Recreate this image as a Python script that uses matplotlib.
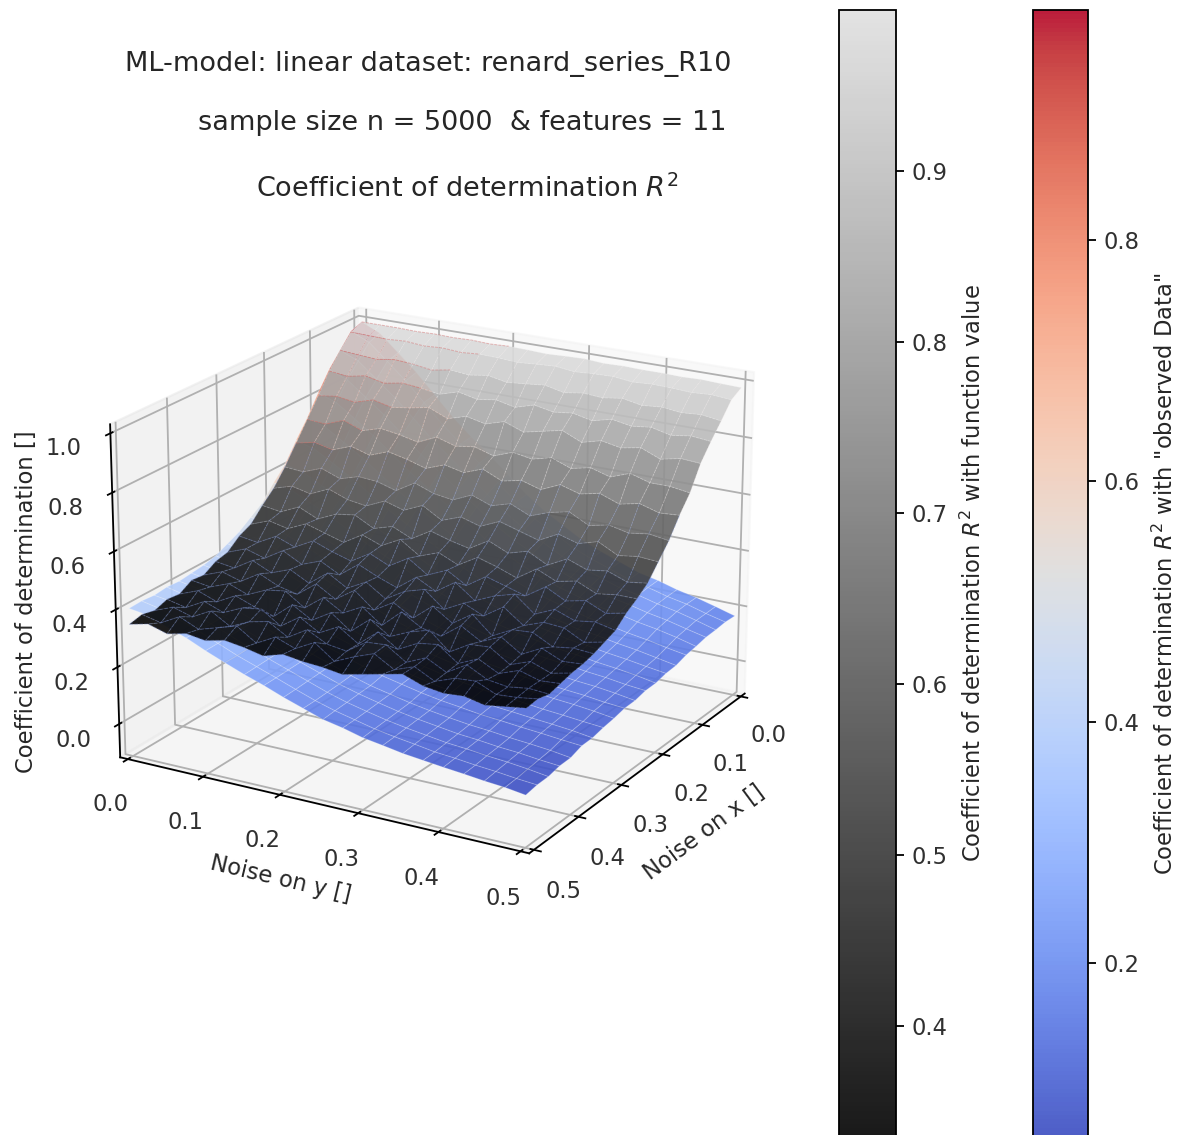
import numpy as np
import matplotlib
matplotlib.use("Agg")
import matplotlib.pyplot as plt
from matplotlib.colors import LinearSegmentedColormap, Normalize

noise_x = [0.0, 0.025, 0.05, 0.075, 0.1, 0.125, 0.15, 0.175, 0.2, 0.225, 0.25, 0.275, 0.3, 0.325, 0.35, 0.375, 0.4, 0.425, 0.45, 0.475, 0.5]
noise_y = [0.0, 0.025, 0.05, 0.075, 0.1, 0.125, 0.15, 0.175, 0.2, 0.225, 0.25, 0.275, 0.3, 0.325, 0.35, 0.375, 0.4, 0.425, 0.45, 0.475, 0.5]

r2_function = [
 [.99,.99,.99,.988,.99,.988,.99,.987,.99,.988,.985,.988,.99,.985,.987,.985,.985,.983,.985,.982,.98],
 [.972,.97,.968,.972,.966,.97,.965,.97,.968,.963,.968,.972,.964,.968,.97,.962,.966,.964,.96,.964,.958],
 [.925,.92,.915,.925,.92,.91,.922,.915,.925,.912,.918,.925,.91,.92,.915,.925,.912,.918,.91,.915,.905],
 [.87,.862,.875,.86,.872,.865,.855,.875,.86,.87,.855,.875,.862,.87,.855,.872,.86,.868,.852,.862,.855],
 [.80,.81,.80,.82,.805,.815,.828,.80,.82,.805,.825,.80,.815,.83,.80,.818,.805,.818,.79,.805,.80],
 [.735,.73,.755,.73,.75,.74,.725,.755,.735,.745,.725,.75,.738,.755,.73,.745,.725,.75,.73,.73,.72],
 [.67,.685,.67,.695,.675,.70,.685,.665,.69,.675,.70,.67,.685,.665,.695,.675,.69,.665,.68,.66,.665],
 [.605,.60,.625,.60,.62,.615,.595,.635,.61,.60,.63,.605,.625,.595,.62,.635,.60,.615,.60,.61,.60],
 [.55,.57,.555,.585,.56,.55,.58,.56,.59,.55,.575,.555,.585,.565,.545,.58,.56,.58,.545,.555,.55],
 [.51,.50,.53,.50,.53,.54,.505,.525,.495,.535,.515,.50,.54,.51,.53,.495,.53,.505,.515,.49,.50],
 [.465,.49,.475,.505,.485,.465,.505,.48,.515,.47,.495,.465,.505,.485,.46,.505,.475,.49,.46,.47,.47],
 [.445,.435,.47,.445,.48,.455,.435,.475,.445,.485,.44,.47,.43,.475,.455,.435,.48,.445,.46,.43,.445],
 [.41,.435,.415,.455,.42,.445,.41,.46,.43,.405,.455,.42,.465,.415,.445,.465,.41,.44,.415,.425,.41],
 [.40,.39,.43,.40,.425,.39,.44,.40,.435,.39,.43,.45,.395,.43,.40,.445,.395,.42,.415,.38,.395],
 [.375,.40,.38,.42,.39,.375,.425,.385,.43,.375,.415,.375,.43,.385,.43,.37,.405,.41,.375,.385,.38],
 [.38,.37,.395,.37,.40,.41,.365,.415,.375,.41,.36,.42,.38,.365,.415,.375,.405,.36,.395,.365,.37],
 [.355,.38,.355,.39,.365,.345,.40,.36,.40,.35,.405,.36,.39,.41,.35,.39,.395,.35,.375,.35,.365],
 [.36,.345,.38,.355,.385,.395,.35,.395,.355,.39,.345,.40,.355,.39,.40,.35,.38,.345,.37,.35,.355],
 [.345,.37,.35,.385,.345,.375,.39,.35,.39,.355,.345,.39,.395,.35,.38,.345,.385,.35,.34,.35,.345],
 [.355,.34,.375,.345,.365,.385,.34,.375,.35,.385,.335,.365,.39,.35,.375,.34,.365,.37,.34,.345,.355],
 [.345,.36,.34,.355,.345,.36,.35,.335,.355,.345,.34,.33,.345,.36,.375,.35,.34,.345,.33,.34,.35],
]

r2_observed = [
 [.99,.96,.90,.84,.77,.70,.64,.585,.526,.466,.417,.377,.338,.309,.284,.259,.244,.224,.209,.19,.17],
 [.975,.946,.888,.829,.762,.694,.635,.577,.519,.461,.412,.374,.335,.306,.282,.257,.242,.223,.209,.189,.172],
 [.925,.898,.843,.788,.725,.662,.606,.552,.498,.443,.397,.361,.325,.298,.275,.252,.238,.22,.206,.188,.168],
 [.875,.849,.798,.746,.687,.627,.575,.524,.473,.421,.379,.345,.311,.285,.264,.242,.229,.212,.199,.182,.166],
 [.81,.787,.74,.692,.638,.583,.536,.489,.442,.395,.356,.324,.293,.27,.25,.23,.219,.203,.191,.176,.158],
 [.74,.719,.676,.633,.584,.534,.491,.449,.406,.363,.328,.299,.271,.25,.232,.214,.203,.189,.178,.164,.152],
 [.68,.661,.622,.582,.537,.492,.452,.413,.374,.335,.303,.277,.251,.231,.215,.198,.189,.176,.166,.153,.14],
 [.615,.598,.563,.528,.488,.447,.412,.378,.343,.308,.279,.256,.233,.216,.202,.187,.178,.167,.158,.147,.137],
 [.57,.554,.522,.49,.453,.416,.384,.353,.321,.289,.262,.241,.22,.204,.191,.178,.17,.159,.151,.141,.128],
 [.52,.506,.477,.448,.415,.382,.353,.325,.296,.268,.244,.225,.206,.192,.18,.168,.161,.151,.144,.134,.127],
 [.49,.477,.45,.423,.392,.361,.334,.307,.281,.254,.231,.214,.196,.183,.171,.16,.153,.144,.138,.129,.118],
 [.46,.448,.423,.398,.369,.34,.314,.29,.265,.24,.219,.202,.186,.173,.163,.152,.146,.138,.132,.123,.117],
 [.44,.428,.404,.38,.353,.325,.301,.277,.253,.229,.209,.193,.178,.166,.156,.146,.14,.132,.126,.118,.108],
 [.42,.408,.385,.362,.335,.308,.285,.262,.239,.216,.196,.181,.166,.154,.144,.135,.129,.121,.115,.108,.102],
 [.41,.399,.376,.353,.327,.30,.277,.254,.232,.209,.19,.175,.16,.148,.139,.129,.123,.116,.11,.103,.093],
 [.405,.394,.371,.348,.322,.295,.272,.249,.227,.204,.185,.17,.155,.143,.134,.124,.118,.111,.105,.098,.092],
 [.40,.388,.365,.342,.315,.288,.265,.242,.219,.196,.176,.161,.146,.134,.124,.115,.109,.101,.095,.088,.078],
 [.403,.388,.365,.341,.314,.287,.263,.239,.216,.192,.173,.157,.142,.13,.12,.11,.104,.096,.091,.083,.077],
 [.398,.388,.364,.34,.313,.285,.261,.237,.213,.189,.169,.153,.138,.126,.116,.106,.10,.092,.086,.078,.068],
 [.402,.388,.364,.339,.311,.283,.259,.235,.21,.186,.166,.15,.134,.122,.112,.101,.095,.087,.081,.073,.067],
 [.40,.39,.363,.34,.31,.283,.257,.234,.208,.185,.162,.148,.13,.119,.107,.099,.091,.084,.076,.07,.06],
]

axis_ticks = [0.0, 0.1, 0.2, 0.3, 0.4, 0.5]
z_ticks = [0.0, 0.2, 0.4, 0.6, 0.8, 1.0]
x_limits = (-0.0104, 0.5104)
y_limits = (-0.0104, 0.5104)
z_limits = (-0.118, 1.03)
function_range = (0.335, 0.994)
observed_range = (0.056, 0.991)
function_cbar_ticks = [0.4, 0.5, 0.6, 0.7, 0.8, 0.9]
observed_cbar_ticks = [0.2, 0.4, 0.6, 0.8]

plt.rcParams["text.color"] = "#262626"
plt.rcParams["axes.labelcolor"] = "#262626"
plt.rcParams["xtick.labelcolor"] = "#303030"
plt.rcParams["ytick.labelcolor"] = "#303030"

W, H = 1180, 1135
DPI = 163
fig = plt.figure(figsize=((W + 0.01) / DPI, (H + 0.01) / DPI), dpi=DPI)

def box(x0, y0, x1, y1):
    return [x0 / W, 1 - y1 / H, (x1 - x0) / W, (y1 - y0) / H]

ax = fig.add_axes(box(68.5, 213, 789.5, 934), projection="3d", computed_zorder=False)
X, Y = np.meshgrid(noise_x, noise_y, indexing="ij")
Zf, Zo = np.array(r2_function), np.array(r2_observed)
grey_map = LinearSegmentedColormap.from_list("grey_top", ["#000000", "#e0e0e0"], N=256)

s_obs = ax.plot_surface(X, Y, Zo, cmap="coolwarm", alpha=0.9,
                        norm=Normalize(*observed_range), linewidth=0, antialiased=True, zorder=1)
s_fun = ax.plot_surface(X, Y, Zf, cmap=grey_map, alpha=0.9,
                        norm=Normalize(*function_range), linewidth=0, antialiased=True, zorder=2)

# Thin facet seams: light on the observed surface, tinted on the function surface.
ax.plot_wireframe(X, Y, Zo, color="white", linewidth=0.45, alpha=0.25, zorder=1.5)
dash = (0, (3, 1))
n = len(noise_x)
for i in range(n):
    if i < 7:
        ax.plot(X[i, :9 - i], Y[i, :9 - i], Zf[i, :9 - i], color="#d06060", linewidth=0.45, alpha=0.4, zorder=3, ls=dash)
        ax.plot(X[i, 8 - i:], Y[i, 8 - i:], Zf[i, 8 - i:], color="#f4f4f4", linewidth=0.45, alpha=0.3, zorder=3, ls=dash)
    elif i < 11:
        ax.plot(X[i], Y[i], Zf[i], color="#c0c4d0", linewidth=0.5, alpha=0.28, zorder=3, ls=dash)
    else:
        ax.plot(X[i], Y[i], Zf[i], color="#6f84c8", linewidth=0.55, alpha=0.32, zorder=3, ls=dash)
    ax.plot(X[:7, i], Y[:7, i], Zf[:7, i], color="#f0e8e8", linewidth=0.45, alpha=0.3, zorder=3, ls=dash)
    ax.plot(X[6:, i], Y[6:, i], Zf[6:, i], color="#7f94d0", linewidth=0.55, alpha=0.3, zorder=3, ls=dash)

ax.set_xlim(*x_limits)
ax.set_ylim(*y_limits)
ax.set_zlim(*z_limits)
ax.view_init(elev=20, azim=30)
ax.set_xticks(axis_ticks)
ax.set_yticks(axis_ticks)
ax.set_zticks(z_ticks)
ax.set_xlabel("Noise on x []")
ax.set_ylabel("Noise on y []")
ax.zaxis.set_rotate_label(False)
ax.set_zlabel("Coefficient of determination []", rotation=90, labelpad=1.2)

cax1 = fig.add_axes(box(839, 10, 896, 1137))
cb1 = fig.colorbar(s_fun, cax=cax1)
cb1.set_ticks(function_cbar_ticks)
cb1.set_label("Coefficient of determination $R^2$ with function value", labelpad=5.5)

cax2 = fig.add_axes(box(1033, 10, 1088, 1137))
cb2 = fig.colorbar(s_obs, cax=cax2)
cb2.set_ticks(observed_cbar_ticks)
cb2.set_label('Coefficient of determination $R^2$ with "observed Data"', labelpad=5.5)

fig.text(428 / W, 1 - 63.5 / H, "ML-model: linear dataset: renard_series_R10", fontsize=12, ha="center", va="center")
fig.text(462 / W, 1 - 122.5 / H, "sample size n = 5000  & features = 11", fontsize=12, ha="center", va="center")
fig.text(467 / W, 1 - 188.5 / H, "Coefficient of determination $R^2$", fontsize=12, ha="center", va="center")

fig.savefig("out.png", dpi=DPI)
